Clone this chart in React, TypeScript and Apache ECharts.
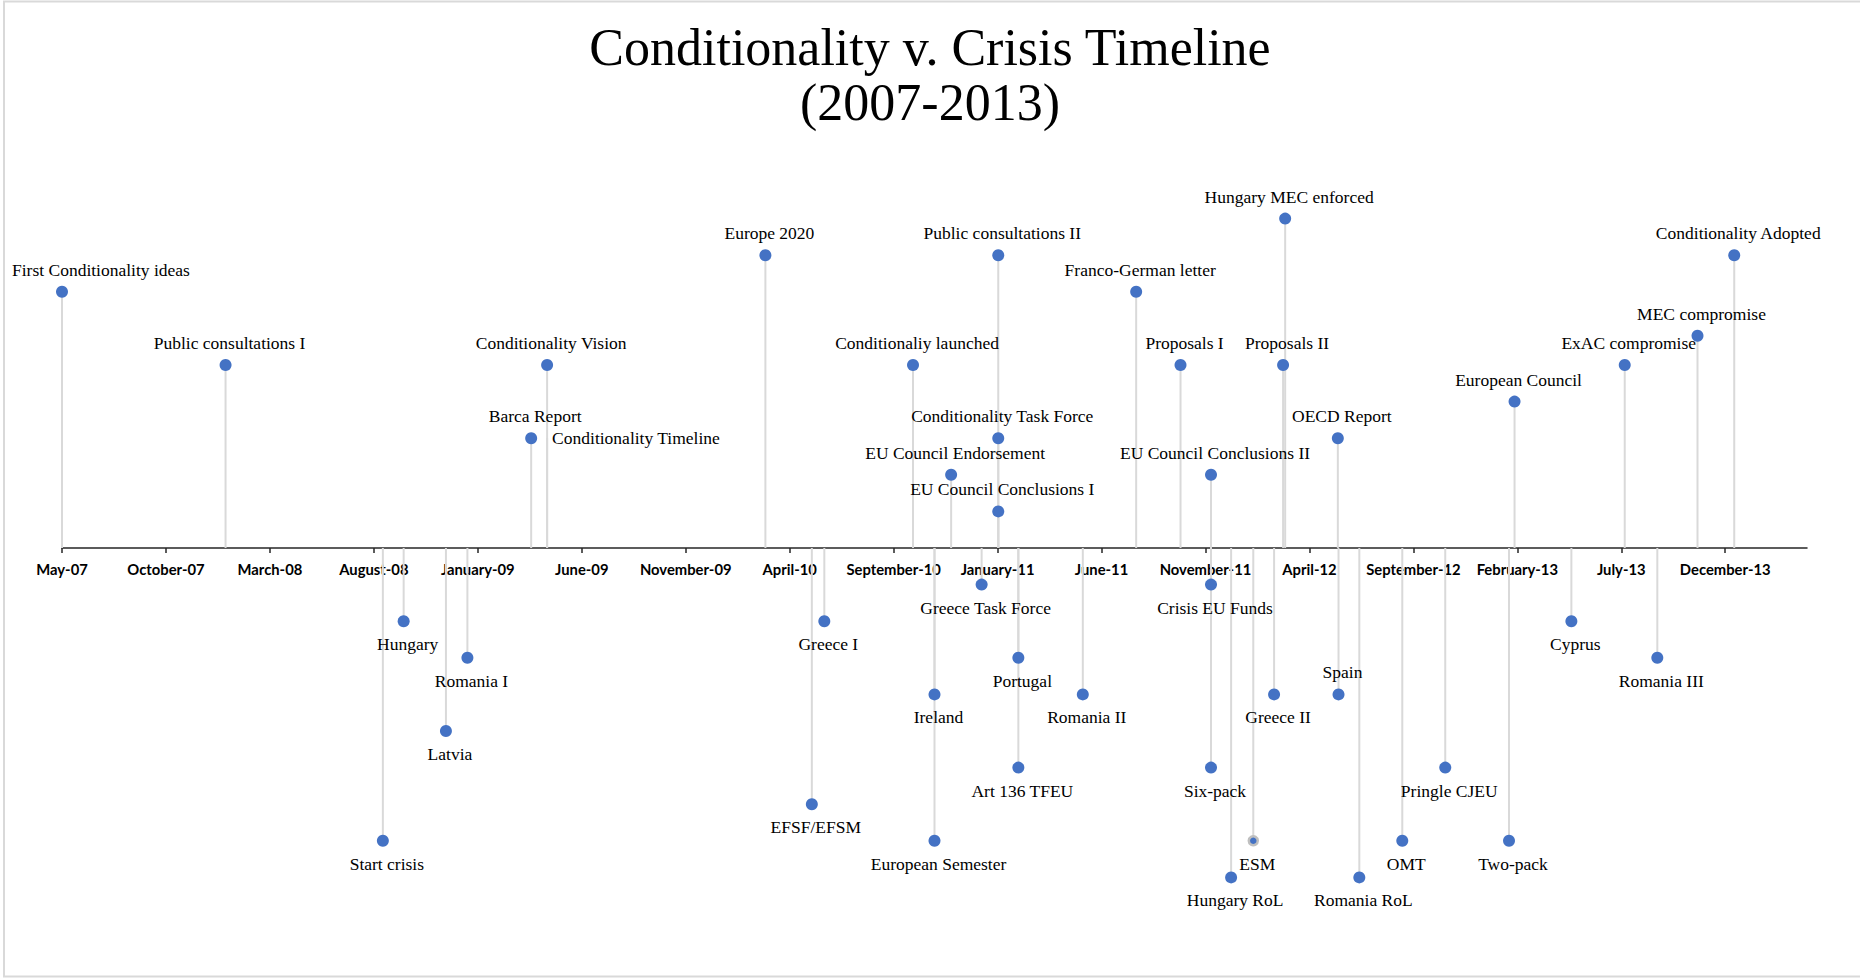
import React, { useEffect, useRef } from "react";
import * as echarts from "echarts";

// ---- data ----
const axisStartDate = "2007-05-21";
const axisSpanDays = 2518;
const tickStepDays = 150;
const tickCount = 17;

const monthNames = [
  "January", "February", "March", "April", "May", "June",
  "July", "August", "September", "October", "November", "December",
];

const eventNames = [
  "First Conditionality ideas",
  "Public consultations I",
  "Start crisis",
  "Hungary",
  "Latvia",
  "Romania I",
  "Barca Report",
  "Conditionality Vision",
  "Conditionality Timeline",
  "Europe 2020",
  "EFSF/EFSM",
  "Greece I",
  "Conditionaliy launched",
  "Ireland",
  "European Semester",
  "EU Council Endorsement",
  "Greece Task Force",
  "Public consultations II",
  "Conditionality Task Force",
  "EU Council Conclusions I",
  "Portugal",
  "Art 136 TFEU",
  "Romania II",
  "Franco-German letter",
  "Proposals I",
  "EU Council Conclusions II",
  "Crisis EU Funds",
  "Six-pack",
  "Hungary RoL",
  "ESM",
  "Greece II",
  "Proposals II",
  "Hungary MEC enforced",
  "OECD Report",
  "Spain",
  "Romania RoL",
  "OMT",
  "Pringle CJEU",
  "Two-pack",
  "European Council",
  "Cyprus",
  "ExAC compromise",
  "Romania III",
  "MEC compromise",
  "Conditionality Adopted",
];

const eventDates = [
  "2007-05-21", "2008-01-12", "2008-08-26", "2008-09-25", "2008-11-25",
  "2008-12-26", "2009-03-28", "2009-04-20", "2009-04-20", "2010-03-01",
  "2010-05-07", "2010-05-25", "2010-09-30", "2010-10-31", "2010-10-31",
  "2010-11-24", "2011-01-07", "2011-01-31", "2011-01-31", "2011-01-31",
  "2011-03-01", "2011-03-01", "2011-06-02", "2011-08-18", "2011-10-21",
  "2011-12-04", "2011-12-04", "2011-12-04", "2012-01-02", "2012-02-03",
  "2012-03-04", "2012-03-17", "2012-03-20", "2012-06-04", "2012-06-05",
  "2012-07-05", "2012-09-05", "2012-11-06", "2013-02-06", "2013-02-14",
  "2013-05-07", "2013-07-23", "2013-09-08", "2013-11-05", "2013-12-28",
];

const eventLevels = [
  7, 5, -8, -2, -5,
  -3, 3, 5, 3, 8,
  -7, -2, 5, -4, -8,
  2, -1, 8, 3, 1,
  -3, -6, -4, 7, 5,
  2, -1, -6, -9, -8,
  -4, 5, 9, 3, -4,
  -9, -8, -6, -8, 4,
  -2, 5, -3, 5.8, 8,
];

// ---- helpers ----
const DAY = 86400000;
const toMs = (s: string) => {
  const [y, m, d] = s.split("-").map(Number);
  return Date.UTC(y, m - 1, d);
};
const axisMin = toMs(axisStartDate);
const axisMax = axisMin + axisSpanDays * DAY;
const tickValues: number[] = [];
for (let k = 0; k < tickCount; k++) tickValues.push(axisMin + k * tickStepDays * DAY);

const fmtDate = (v: number) => {
  const d = new Date(v);
  const yy = String(d.getUTCFullYear() % 100).padStart(2, "0");
  return monthNames[d.getUTCMonth()] + "-" + yy;
};

const SERIF = "'Liberation Serif', 'Times New Roman', serif";
const BLUE = "#4472C4";

const GRID_TOP = 182;
const GRID_BOTTOM = 64;
const CHART_H = 978;

export default function App() {
  const ref = useRef<HTMLDivElement>(null);

  useEffect(() => {
    if (!ref.current) return;
    const chart = echarts.init(ref.current, null, { renderer: "svg" });

    const points = eventNames.map((name, i) => {
      const y = eventLevels[i];
      const item: any = {
        name,
        value: [toMs(eventDates[i]), y],
        label: {
          position: y >= 0 ? "top" : "bottom",
          distance: y >= 0 ? 7 : 8,
          offset: [4, 0],
        },
      };
      if (name === "First Conditionality ideas") {
        // kept inside the chart area, left-aligned near the edge
        item.label = { position: [-44, -25], align: "left", verticalAlign: "top", offset: [0, 0] };
      }
      if (name === "Spain") {
        item.label = { position: "top", distance: 7, offset: [4, 0] };
      }
      if (name === "Conditionality Timeline") {
        item.symbolSize = 0;
        item.label = { position: "right", distance: 5, offset: [0, 0] };
      }
      if (name === "ESM") {
        item.symbolSize = 9;
        item.itemStyle = { color: BLUE, borderColor: "#bfbfbf", borderWidth: 2.5 };
      }
      return item;
    });

    const stems = eventNames.map((_, i) => [toMs(eventDates[i]), eventLevels[i]]);

    // the date axis sits at level 0, in the middle of the grid
    const gridH = CHART_H - GRID_TOP - GRID_BOTTOM;
    const axisOffset = -gridH / 2;

    chart.setOption({
      animation: false,
      backgroundColor: "#ffffff",
      title: {
        text: "Conditionality v. Crisis Timeline\n(2007-2013)",
        left: "center",
        top: 15,
        textStyle: {
          fontFamily: SERIF,
          fontSize: 52,
          lineHeight: 55,
          fontWeight: "normal",
          color: "#000000",
        },
      },
      graphic: [
        {
          type: "rect",
          shape: { x: 4, y: 1.5, width: 1900, height: 975 },
          style: { fill: "none", stroke: "#d9d9d9", lineWidth: 2 },
          silent: true,
        },
      ],
      grid: { left: 62, right: 53, top: GRID_TOP, bottom: GRID_BOTTOM, containLabel: false },
      xAxis: {
        type: "value",
        position: "bottom",
        offset: axisOffset,
        min: axisMin,
        max: axisMax,
        splitLine: { show: false },
        axisLine: { show: true, onZero: false, lineStyle: { color: "#262626", width: 1.5 } },
        axisTick: {
          show: true,
          length: 5,
          customValues: tickValues,
          lineStyle: { color: "#262626", width: 1.5 },
        },
        axisLabel: {
          customValues: tickValues,
          margin: 13,
          fontFamily: "Lato",
          fontWeight: "bold",
          fontSize: 14.8,
          color: "#000000",
          formatter: (v: number) => fmtDate(v),
        },
      },
      yAxis: {
        type: "value",
        min: -10,
        max: 10,
        show: false,
        splitLine: { show: false },
      },
      series: [
        {
          type: "custom",
          name: "stems",
          data: stems,
          encode: { x: 0, y: 1 },
          z: 1,
          silent: true,
          renderItem: (params: any, api: any) => {
            const x = api.value(0);
            const y = api.value(1);
            const p0 = api.coord([x, 0]);
            const p1 = api.coord([x, y]);
            return {
              type: "line",
              shape: { x1: p0[0], y1: p0[1], x2: p1[0], y2: p1[1] },
              style: { stroke: "#d9d9d9", lineWidth: 2 },
            };
          },
        },
        {
          type: "scatter",
          name: "events",
          data: points,
          symbol: "circle",
          symbolSize: 12,
          z: 3,
          itemStyle: { color: BLUE, opacity: 1 },
          label: {
            show: true,
            formatter: (p: any) => p.name,
            fontFamily: SERIF,
            fontSize: 17.5,
            color: "#000000",
          },
        },
      ],
    });

    return () => chart.dispose();
  }, []);

  return (
    <div
      ref={ref}
      style={{ position: "fixed", left: 0, top: 0, width: 1860, height: CHART_H, background: "#fff" }}
    />
  );
}
